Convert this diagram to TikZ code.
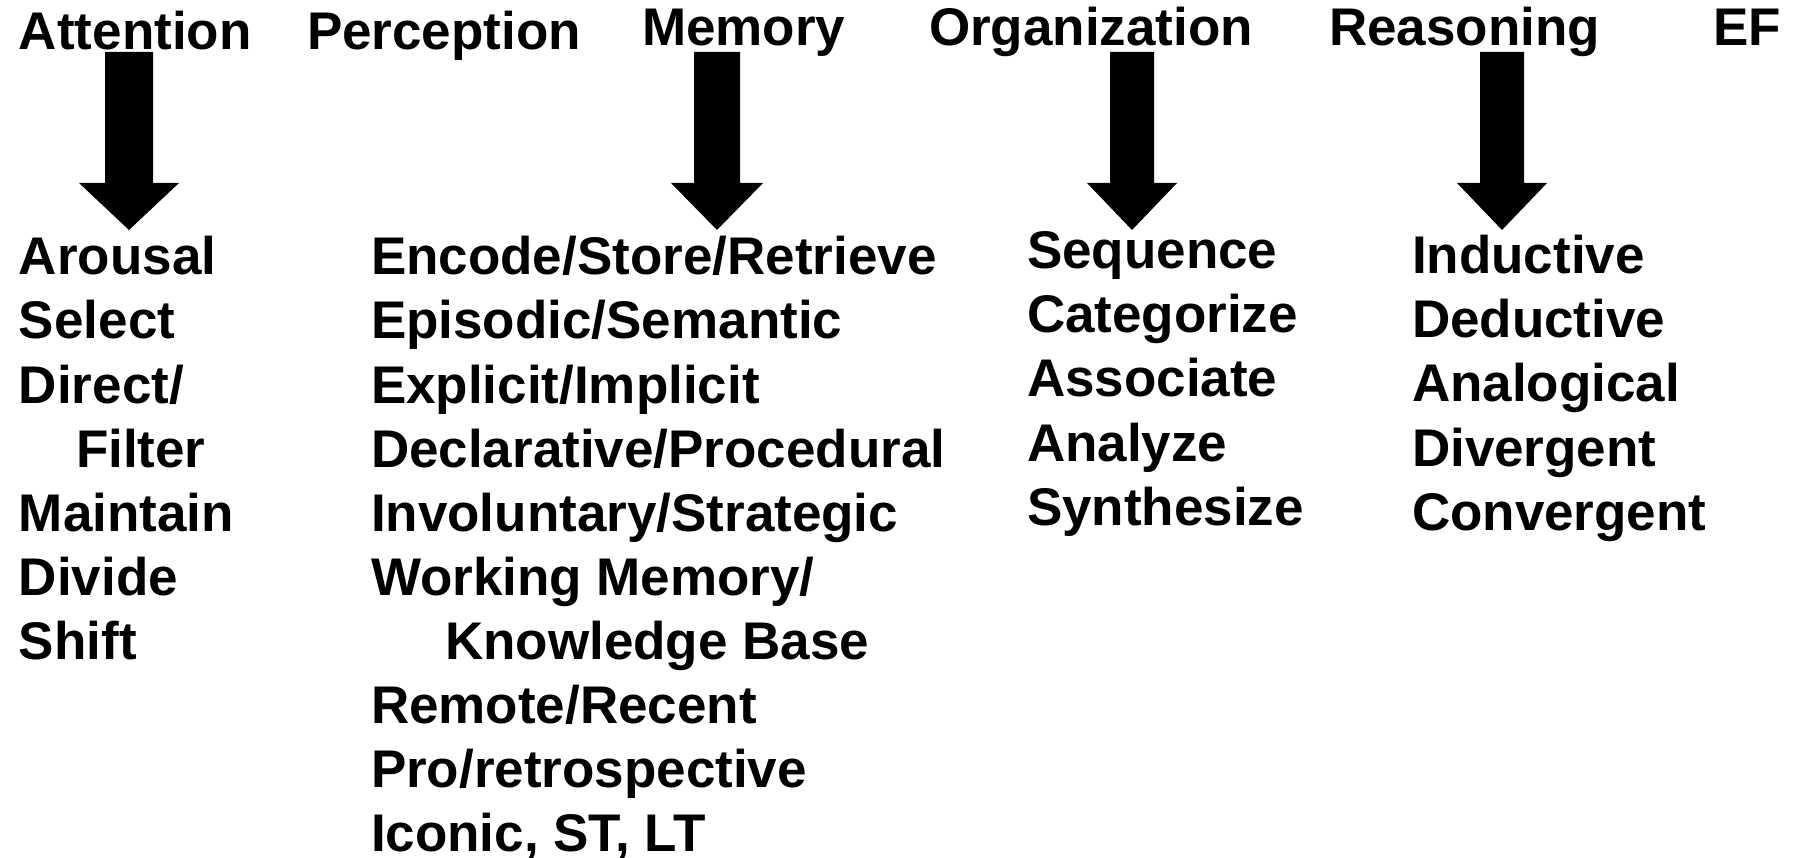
\documentclass[tikz,border=0pt]{standalone}
\usepackage{fontspec}
\setmainfont{Liberation Sans}
\begin{document}
\begin{tikzpicture}[x=1pt,y=1pt,
  lbl/.style={anchor=base west,inner sep=0pt,outer sep=0pt,font=\fontsize{53}{64}\selectfont\bfseries},
  blockarrow/.style={fill=black,draw=none}]
\useasboundingbox (0,0) rectangle (1799,-858);
% headers
\node[lbl] (hatt) at (19,-50) {Attention};
\node[lbl] (hper) at (307,-50) {Perception};
\node[lbl] (hmem) at (642,-46) {Memory};
\node[lbl] (horg) at (929,-46) {Organization};
\node[lbl] (hrea) at (1329,-46) {Reasoning};
\node[lbl] (hef) at (1713,-46) {EF};
% attention list
\foreach \t [count=\i from 0] in {Arousal,Select,Direct/,{},Maintain,Divide,Shift}
  \node[lbl] (att\i) at (19,{-275-64.0*\i}) {\t};
\node[lbl] (attf) at (76,{-275-64.0*3}) {Filter};
% memory list
\foreach \t [count=\i from 0] in {Encode/Store/Retrieve,Episodic/Semantic,Explicit/Implicit,Declarative/Procedural,Involuntary/Strategic,Working Memory/,{},Remote/Recent,Pro/retrospective,{Iconic, ST, LT}}
  \node[lbl] (mem\i) at (371,{-275-64.0*\i}) {\t};
\node[lbl] (memk) at (445,{-275-64.0*6}) {Knowledge Base};
% organization list
\foreach \t [count=\i from 0] in {Sequence,Categorize,Associate,Analyze,Synthesize}
  \node[lbl] (org\i) at (1027,{-269-64.0*\i}) {\t};
% reasoning list
\foreach \t [count=\i from 0] in {Inductive,Deductive,Analogical,Divergent,Convergent}
  \node[lbl] (rea\i) at (1412,{-274-64.0*\i}) {\t};
% block arrows
\foreach \n/\cx/\sw/\hw in {a1/129/24/50, a2/717/23/46, a3/1132/22/45, a4/1502/22/45}{
  \coordinate (\n top) at (\cx,-52);
  \fill[blockarrow] (\n top) ++(-\sw,0) -- ++(2*\sw,0) -- ++(0,-131) -- ++(\hw-\sw,0)
     -- ++(-\hw,-47) -- ++(-\hw,47) -- ++(\hw-\sw,0) -- cycle;
}
\end{tikzpicture}
\end{document}
